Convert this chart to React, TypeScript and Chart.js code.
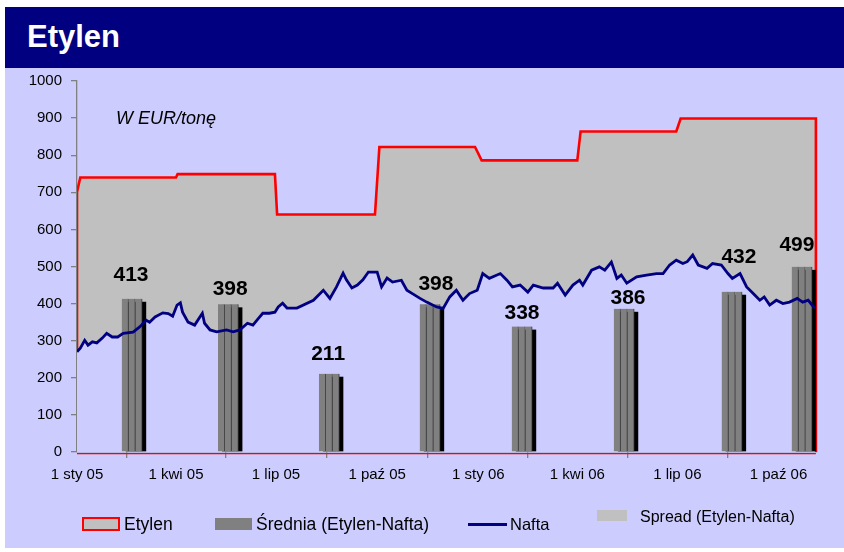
import React, { useEffect, useRef } from 'react';
import { Chart, registerables } from 'chart.js';
Chart.register(...registerables);

// ---- data ----
// x values are days counted from 1 Jan 2005
const TICK_DAYS = [0, 90, 181, 273, 365, 455, 546, 638];
const TICK_LABELS = ['1 sty 05', '1 kwi 05', '1 lip 05', '1 paź 05', '1 sty 06', '1 kwi 06', '1 lip 06', '1 paź 06'];
const X_MAX_DAY = 673;

const ETYLEN_DAYS = [0, 0, 3, 90, 91.5, 180, 182, 271, 275, 362, 368, 455, 458, 545, 549, 672, 672];
const ETYLEN_VALUES = [0, 701, 740, 740, 749, 749, 640, 640, 822, 822, 786, 786, 864, 864, 899, 899, 0];

const NAFTA_DAYS = [
  0, 3, 7, 10, 14, 18, 23, 27, 32, 37,
  42, 51, 57, 63, 66, 71, 78, 83, 87, 91,
  94, 96, 101, 107, 114, 116, 121, 127, 136, 142,
  148, 155, 160, 165, 169, 175, 180, 183, 187, 191,
  200, 215, 224, 230, 236, 242, 245, 250, 255, 260,
  265, 273, 277, 282, 287, 295, 300, 305, 312, 318,
  327, 333, 339, 345, 351, 357, 364, 369, 375, 385,
  391, 396, 403, 410, 415, 424, 433, 437, 444, 451,
  457, 460, 468, 475, 480, 486, 491, 495, 500, 509,
  518, 527, 533, 539, 545, 551, 555, 560, 565, 573,
  578, 586, 592, 596, 603, 609, 615, 621, 625, 630,
  636, 642, 648, 655, 660, 665, 671,
];
const NAFTA_VALUES = [
  270, 280, 301, 288, 297, 294, 307, 320, 310, 310,
  320, 323, 337, 355, 350, 364, 375, 373, 366, 396,
  402, 377, 350, 342, 374, 347, 329, 324, 329, 324,
  329, 347, 342, 360, 374, 374, 377, 391, 401, 388,
  388, 409, 436, 414, 445, 482, 464, 442, 450, 464,
  485, 485, 445, 469, 458, 463, 436, 427, 414, 404,
  391, 387, 418, 436, 409, 427, 436, 481, 468, 481,
  463, 445, 450, 431, 450, 442, 442, 455, 423, 450,
  463, 450, 490, 499, 490, 512, 468, 477, 455, 472,
  477, 481, 481, 504, 517, 508, 513, 531, 504, 495,
  508, 504, 481, 468, 481, 445, 427, 409, 418, 396,
  409, 400, 404, 414, 404, 409, 387,
];

const BAR_DAYS = [50, 137.5, 229.3, 321, 404.7, 497.5, 595.6, 659.3];
const BAR_VALUES = [413, 398, 211, 398, 338, 386, 432, 499];

// ---- layout / style ----
const FONT = '"Liberation Sans", Arial, sans-serif';
const LAVENDER = '#CCCCFF';
const NAVY = '#000080';
const SUB_BAR_OFFSETS = [-6.2, 0, 6.2]; // days, each average drawn as 3 adjoining columns
const LABEL_NUDGE: [number, number][] = [
  [-1, 18], [2, 9], [-1, 14], [6, 14], [0, 8], [4, 5], [7, 29], [-5, 16],
];

const barShadow = {
  id: 'barShadow',
  beforeDatasetDraw(chart: any, args: any) {
    const ds = chart.data.datasets[args.index];
    if (ds.type !== 'bar') return;
    const c = chart.ctx;
    c.save();
    c.fillStyle = '#000';
    args.meta.data.forEach((el: any) => {
      const { x, y, base, width } = el.getProps(['x', 'y', 'base', 'width'], true);
      c.fillRect(x - width / 2 + 4, y + 3, width, base - y - 3);
    });
    c.restore();
  },
};

const redBase = {
  id: 'redBase',
  afterDatasetsDraw(chart: any) {
    const c = chart.ctx;
    const xs = chart.scales.x;
    const a = chart.chartArea;
    c.save();
    c.strokeStyle = '#FF0000';
    c.lineWidth = 1.2;
    c.beginPath();
    c.moveTo(a.left, a.bottom + 1.6);
    c.lineTo(xs.getPixelForValue(ETYLEN_DAYS[ETYLEN_DAYS.length - 1]), a.bottom + 1.6);
    c.stroke();
    c.restore();
  },
};

const barLabels = {
  id: 'barLabels',
  afterDraw(chart: any) {
    const c = chart.ctx;
    const xs = chart.scales.x;
    const ys = chart.scales.y;
    c.save();
    c.font = `bold 21px ${FONT}`;
    c.fillStyle = '#000';
    c.textAlign = 'center';
    c.textBaseline = 'alphabetic';
    BAR_VALUES.forEach((v, i) => {
      const x = xs.getPixelForValue(BAR_DAYS[i]) + LABEL_NUDGE[i][0];
      const y = ys.getPixelForValue(v) - LABEL_NUDGE[i][1];
      c.fillText(String(v), x, y);
    });
    c.restore();
  },
};

export default function App() {
  const ref = useRef<HTMLCanvasElement>(null);

  useEffect(() => {
    const canvas = ref.current;
    if (!canvas) return;
    const nafta = NAFTA_DAYS.map((d, i) => ({ x: d, y: NAFTA_VALUES[i] }));
    const etylen = ETYLEN_DAYS.map((d, i) => ({ x: d, y: ETYLEN_VALUES[i] }));
    const bars = BAR_DAYS.flatMap((d, i) => SUB_BAR_OFFSETS.map((o) => ({ x: d + o, y: BAR_VALUES[i] })));

    const chart = new Chart(canvas, {
      type: 'line',
      data: {
        datasets: [
          {
            type: 'line',
            label: 'Nafta',
            data: nafta,
            borderColor: NAVY,
            borderWidth: 2.8,
            pointRadius: 0,
            fill: false,
            tension: 0,
            order: 0,
          },
          {
            type: 'bar',
            label: 'Średnia (Etylen-Nafta)',
            data: bars,
            backgroundColor: '#808080',
            borderColor: '#3a3a3a',
            borderWidth: { top: 0, left: 0, bottom: 0, right: 1 },
            barThickness: 6.8,
            grouped: false,
            order: 1,
          },
          {
            type: 'line',
            label: 'nafta-area',
            data: nafta,
            borderWidth: 0,
            borderColor: 'rgba(0,0,0,0)',
            backgroundColor: LAVENDER,
            pointRadius: 0,
            fill: 'origin',
            tension: 0,
            order: 2,
          },
          {
            type: 'line',
            label: 'Etylen',
            data: etylen,
            borderColor: '#FF0000',
            borderWidth: 2.6,
            backgroundColor: '#C0C0C0',
            pointRadius: 0,
            fill: 'origin',
            tension: 0,
            order: 3,
            clip: { left: 0, top: 5, right: 5, bottom: 0 },
          },
        ] as any,
      },
      options: {
        animation: false,
        responsive: false,
        events: [],
        layout: { padding: { left: 0, right: 27, top: 13, bottom: 0 } },
        plugins: {
          legend: { display: false },
          tooltip: { enabled: false },
        },
        scales: {
          x: {
            type: 'linear',
            min: 0,
            max: X_MAX_DAY,
            offset: false,
            z: 1,
            afterBuildTicks: (scale: any) => {
              scale.ticks = TICK_DAYS.map((v) => ({ value: v }));
            },
            afterFit: (scale: any) => {
              scale.height = 96;
              scale.paddingLeft = 0;
              scale.paddingRight = 0;
            },
            ticks: {
              autoSkip: false,
              maxRotation: 0,
              padding: 8,
              color: '#000',
              font: { family: FONT, size: 15 },
              callback: (v: any) => {
                const i = TICK_DAYS.indexOf(Number(v));
                return i >= 0 ? TICK_LABELS[i] : '';
              },
            },
            grid: { drawOnChartArea: false, drawTicks: true, tickLength: 6, color: '#808080', lineWidth: 1.3 },
            border: { display: true, color: '#808080', width: 1.3 },
          },
          y: {
            type: 'linear',
            min: 0,
            max: 1000,
            afterFit: (scale: any) => {
              scale.width = 72;
              scale.paddingTop = 0;
              scale.paddingBottom = 0;
            },
            ticks: {
              stepSize: 100,
              padding: 9,
              color: '#000',
              font: { family: FONT, size: 15 },
              callback: (v: any) => String(v),
            },
            grid: { drawOnChartArea: false, drawTicks: true, tickLength: 6, color: '#808080', lineWidth: 1.3 },
            border: { display: true, color: '#808080', width: 1.3 },
          },
        },
      } as any,
      plugins: [barShadow, redBase, barLabels],
    });
    return () => chart.destroy();
  }, []);

  const legendText: React.CSSProperties = { position: 'absolute', fontFamily: FONT, color: '#000', lineHeight: '20px', whiteSpace: 'nowrap' };

  return (
    <div style={{ position: 'absolute', left: 0, top: 0, width: 844, height: 552, background: '#fff', overflow: 'hidden' }}>
      <div style={{ position: 'absolute', left: 5, top: 7, width: 839, height: 61, background: NAVY }} />
      <div style={{ position: 'absolute', left: 27, top: 21, color: '#fff', fontFamily: FONT, fontWeight: 'bold', fontSize: 31, lineHeight: '31px', whiteSpace: 'nowrap' }}>Etylen</div>
      <div style={{ position: 'absolute', left: 5, top: 68, width: 839, height: 480, background: LAVENDER }}>
        <canvas ref={ref} width={839} height={480} style={{ display: 'block', width: 839, height: 480 }} />
      </div>
      <div style={{ position: 'absolute', left: 116, top: 109, fontFamily: FONT, fontStyle: 'italic', fontSize: 18, lineHeight: '18px', color: '#000', whiteSpace: 'nowrap' }}>W EUR/tonę</div>

      {/* legend */}
      <div style={{ position: 'absolute', left: 82, top: 517, width: 34, height: 10, background: '#C0C0C0', border: '2px solid #FF0000' }} />
      <div style={{ ...legendText, fontSize: 17.5, left: 124, top: 514 }}>Etylen</div>
      <div style={{ position: 'absolute', left: 215, top: 518, width: 37, height: 12, background: '#808080' }} />
      <div style={{ ...legendText, fontSize: 17.5, left: 256, top: 514 }}>Średnia (Etylen-Nafta)</div>
      <div style={{ position: 'absolute', left: 468, top: 523, width: 39, height: 3, background: NAVY }} />
      <div style={{ ...legendText, fontSize: 16.5, left: 510, top: 514 }}>Nafta</div>
      <div style={{ position: 'absolute', left: 597, top: 510, width: 30, height: 11, background: '#C0C0C0' }} />
      <div style={{ ...legendText, fontSize: 16, left: 640, top: 507 }}>Spread (Etylen-Nafta)</div>
    </div>
  );
}
